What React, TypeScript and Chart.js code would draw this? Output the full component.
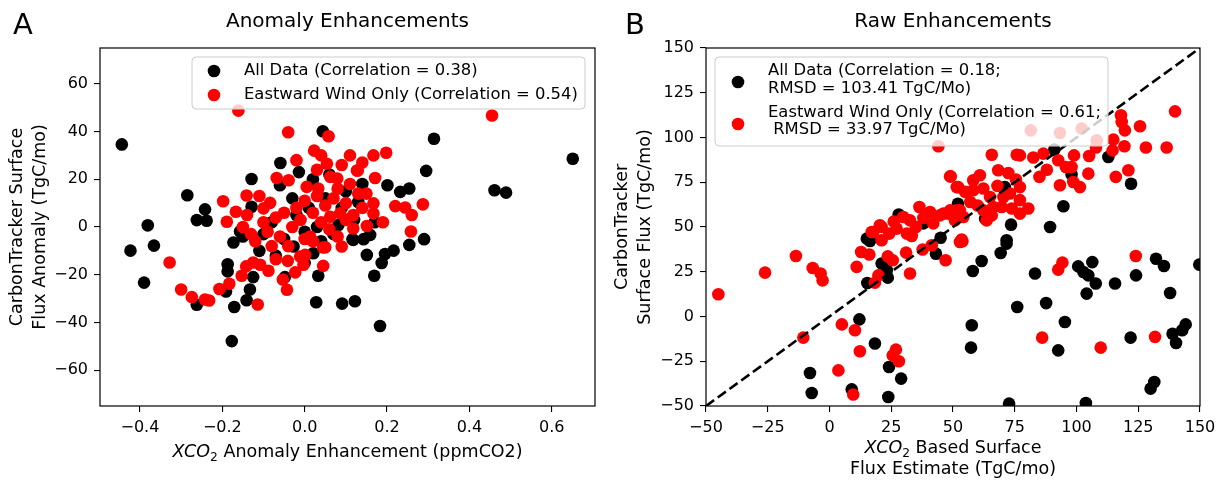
import React, { useEffect, useRef } from 'react';
import { Chart, registerables } from 'chart.js';

Chart.register(...registerables);

const FONT = "'DejaVu Sans', 'Liberation Sans', sans-serif";

// ---------- Panel A : anomaly enhancements ----------
const anomalyXTicks = [-0.4, -0.2, 0.0, 0.2, 0.4, 0.6];
const anomalyYTicks = [-60, -40, -20, 0, 20, 40, 60];

const anomalyAll: number[][] = [
  [-0.444, 34.6], [-0.423, -9.9], [-0.39, -23.3], [-0.381, 0.7], [-0.366, -7.8], [-0.285, 13.3],
  [-0.262, 2.9], [-0.238, 2.6], [-0.242, 7.4], [-0.262, -32.6], [-0.191, -27], [-0.187, -15.6],
  [-0.187, -18.6], [-0.171, -33.5], [-0.177, -47.8], [-0.141, -30.7], [-0.133, -26.2], [-0.125, -21],
  [-0.173, -6.5], [-0.157, -1.9], [-0.129, 20.1], [-0.129, 8.5], [-0.06, 17.5], [-0.059, 26.8],
  [-0.014, 23], [0.044, 40.1], [-0.048, -21], [-0.027, -8.2], [0.021, -11], [0.033, -20.4],
  [0.028, -31.5], [0.091, -32.1], [0.122, -31.1], [0.118, -5.4], [0.116, -5.1], [0.143, -5.1],
  [0.159, -3.3], [0.082, 0.8], [0.13, 10.5], [0.169, -20.4], [0.183, -41.5], [0.151, -11.7],
  [0.187, -15.1], [0.195, -11.3], [0.216, -9.9], [0.254, -7.5], [0.29, -5.1], [0.314, 37],
  [0.295, 23.5], [0.201, 17.5], [0.232, 14.7], [0.254, 16.1], [0.461, 15.4], [0.489, 14.4],
  [0.651, 28.6], [-0.1, -3], [-0.08, 2], [-0.05, -5], [-0.02, 5], [0.0, -2], [0.01, 8], [0.03, 0],
  [0.05, 12], [0.07, -3], [0.1, 15], [0.02, 20], [-0.03, 12], [0.06, 22], [0.12, 3], [-0.11, -10],
  [0.0, -15], [-0.07, -12], [0.04, -6], [0.09, 8], [0.14, 18], [-0.15, -4], [0.17, 2],
];

const anomalyEast: number[][] = [
  [-0.161, 48.75], [-0.04, 39.7], [0.058, 38], [0.023, 32], [0.054, 26.5], [-0.068, 20.5],
  [-0.039, 19.6], [0.005, 16.8], [0.033, 16.1], [0.062, 21], [0.079, 20.3], [0.127, 23.7],
  [-0.141, 13.2], [-0.198, 10.8], [-0.167, 6.4], [-0.084, 10.1], [-0.1, 7.8], [-0.189, 2.2],
  [-0.328, -14.9], [-0.3, -26.2], [-0.274, -29.4], [-0.242, -30.4], [-0.232, -30.8], [-0.207, -26],
  [-0.183, -23.8], [-0.114, -32.5], [-0.153, -20.4], [-0.142, -16.5], [-0.125, -14.9], [-0.108, -15.8],
  [-0.088, -18.3], [-0.07, -13.5], [-0.041, -14.2], [-0.053, -22], [-0.043, -26.3], [-0.023, -19],
  [-0.003, -15.8], [0.001, -11.7], [-0.011, -12.4], [0.045, -16.3], [0.09, -8.2], [0.013, -4],
  [0.045, -8.6], [0.05, -8.5], [0.151, 0.4], [0.118, -0.6], [0.258, -1.9], [0.22, 8.75],
  [0.244, 8.2], [0.26, 5], [0.287, 9.5], [0.167, 5.7], [0.167, 9.9], [0.118, 5], [0.086, 5.7],
  [0.062, 4.3], [0.455, 46.7], [0.167, 30], [0.198, 31.1], [0.129, 23.7], [0.171, 20.5],
  [-0.15, 0], [-0.13, -3], [-0.12, -6], [-0.1, 2], [-0.09, -2], [-0.07, 4], [-0.06, -4], [-0.05, 6],
  [-0.03, 0], [-0.02, 8], [-0.01, 3], [0.0, 11], [0.02, 6], [0.03, 13], [0.04, 2], [0.05, 9],
  [0.07, 12], [0.08, 16], [0.1, 10], [0.1, 3], [0.11, 18], [0.13, 14], [0.14, 8], [0.06, -1],
  [0.02, -6], [-0.04, -8], [-0.08, -8], [0.0, -5], [0.09, 26], [0.11, 30], [0.14, 27], [0.04, 30],
  [-0.02, 28], [0.15, 14], [0.08, -4], [-0.11, 13], [-0.14, 5], [0.19, 2], [0.03, 24],
];

// ---------- Panel B : raw enhancements ----------
const rawTicks = [-50, -25, 0, 25, 50, 75, 100, 125, 150];
const oneToOne: number[][] = [[-50, -50], [150, 150]];

const rawAll: number[][] = [
  [15.1, 43.5], [112.9, 89.1], [91, 93.2], [98, 79.3], [122.1, 74.2], [94.7, 61.6], [89.3, 50],
  [73.5, 51.3], [71.7, 42.6], [71, 72.3], [63, 54.7], [-7.9, -31.6], [-7.2, -42.7], [12.1, -1.6],
  [9, -40.7], [18.4, -15.1], [23.8, -45], [24.1, -28.2], [29, -34.7], [15.3, 18.7], [21.1, 29.6],
  [23.2, 25.8], [23.6, 21.7], [43.1, 35.1], [16.4, 42.2], [71.7, 40.7], [69.3, 35.5], [61.6, 31],
  [58, 25.4], [83.2, 24], [100.7, 28], [102.8, 24.9], [104.8, 23], [106.4, 30.4], [107.8, 18.4],
  [104.1, 12.8], [115.6, 18.4], [124.1, 23], [132.2, 32.3], [135.4, 28.2], [137.9, 13.1],
  [149.7, 29], [76, 5.3], [87.7, 7.5], [57.6, -4.9], [57.3, -17.4], [92.6, -18.9], [95.3, -3.1],
  [121.9, -11.8], [138.9, -9.6], [142.8, -7.7], [144.2, -4.4], [140.3, -14.8], [131.5, -36.6],
  [130, -40.3], [72.7, -48.7], [103.8, -48.3], [28, 57], [45, 44], [52, 63], [38, 52],
];

const rawEast: number[][] = [
  [44.1, 95.1], [49.1, 78.3], [51.5, 72.3], [36.4, 61.2], [29.9, 55.6], [32.6, 53.7], [40.7, 58.4],
  [44.7, 56.5], [48.1, 57.5], [51.5, 59.3], [20.4, 51], [17.1, 47.2], [27.2, 49.1], [31.3, 46.3],
  [81.5, 104], [93.3, 102.5], [102.1, 105], [108.2, 98.4], [118, 112.4], [118.3, 108.7],
  [119.6, 104], [139.9, 114.6], [125.7, 106.3], [114.9, 98.8], [114.6, 92.8], [119.4, 95.1],
  [128.1, 94.4], [136.5, 94.4], [99, 90], [105.1, 89.7], [107.9, 94.4], [86.6, 91], [92.6, 87.3],
  [95.7, 83.5], [98, 83.5], [101.4, 72.3], [93.3, 73.3], [98.7, 75.1], [104.8, 79.8], [115.9, 78],
  [121, 81.7], [65.7, 90.4], [75.8, 90.4], [77.1, 90], [82.5, 88.8], [68.3, 81.7], [72.4, 80.2],
  [77.1, 72.3], [75.5, 76.5], [60.9, 78.9], [58.2, 76.1], [48.8, 78.3], [52.1, 72.3], [54.9, 69.6],
  [58.2, 70.5], [62.3, 71.5], [65, 66.8], [70.4, 66.8], [73.1, 68.7], [77.1, 65], [80.5, 60.3],
  [77.1, 57.5], [73.8, 60.3], [66.3, 61.2], [62.3, 59.3], [65.7, 56.5], [69.7, 61.2], [46.1, 57.5],
  [48.8, 59.3], [52.8, 59.3], [50.8, 53.7], [54.2, 55.6], [63.6, 53.7], [53.5, 43], [-45, 12.4],
  [-26.1, 24.5], [-13.6, 33.8], [-6.8, 27.1], [-3.6, 24], [-2.8, 20.2], [-10.6, -11.8], [3.6, -30.1],
  [5, -4.4], [10.3, -7.7], [9.6, -43.6], [12.3, -19.4], [25.6, -21.7], [26.9, -18.5], [28.1, -25],
  [11, 27.7], [12.8, 36], [16.1, 34.6], [18.4, 18.9], [19.8, 23], [23.6, 33.6], [25.6, 31.4],
  [32.6, 24], [31, 35.7], [33.3, 45], [37.7, 37.4], [41.4, 39.8], [47, 31.4], [17.7, 47.2],
  [21.1, 50], [21.1, 42.6], [24.2, 46.3], [52.8, 41.6], [53.8, 42], [92.6, 26.2], [94.3, 30.1],
  [124, 33.8], [86.1, -11.8], [109.8, -17.4], [131.8, -11.4], [35, 50], [38, 55], [42, 52],
  [26, 53], [57, 64], [60, 62], [68, 73], [85, 78], [88, 82],
];

const anomalyLegend = ['All Data (Correlation = 0.38)', 'Eastward Wind Only (Correlation = 0.54)'];
const rawLegend = [
  ['All Data (Correlation = 0.18;', 'RMSD = 103.41 TgC/Mo)'],
  ['Eastward Wind Only (Correlation = 0.61;', ' RMSD = 33.97 TgC/Mo)'],
];

type Part = { t: string; italic?: boolean; sub?: boolean };

const TICK_SIZE = 16;
const LABEL_SIZE = 17.5;
const LEGEND_SIZE = 16.4;
const TITLE_SIZE = 20;

const fmtMinus = (s: string) => s.replace('-', '\u2212');

function roundRect(ctx: CanvasRenderingContext2D, x: number, y: number, w: number, h: number, r: number) {
  ctx.beginPath();
  ctx.moveTo(x + r, y);
  ctx.arcTo(x + w, y, x + w, y + h, r);
  ctx.arcTo(x + w, y + h, x, y + h, r);
  ctx.arcTo(x, y + h, x, y, r);
  ctx.arcTo(x, y, x + w, y, r);
  ctx.closePath();
}

function drawRich(ctx: CanvasRenderingContext2D, parts: Part[], cx: number, cy: number) {
  const fontOf = (p: Part) => `${p.italic ? 'italic ' : ''}${p.sub ? LABEL_SIZE * 0.7 : LABEL_SIZE}px ${FONT}`;
  let total = 0;
  const widths = parts.map((p) => {
    ctx.font = fontOf(p);
    const w = ctx.measureText(p.t).width;
    total += w;
    return w;
  });
  let x = cx - total / 2;
  ctx.textAlign = 'left';
  ctx.textBaseline = 'alphabetic';
  ctx.fillStyle = '#000';
  const base = cy + LABEL_SIZE * 0.36;
  parts.forEach((p, i) => {
    ctx.font = fontOf(p);
    ctx.fillText(p.t, x, base + (p.sub ? LABEL_SIZE * 0.22 : 0));
    x += widths[i];
  });
}

interface LegendItem { color: string; my: number; lines: [string, number][] }
interface PanelCfg {
  width: number;
  left: number;
  title: string;
  yTitle: string[];
  yTitlePad: number;
  xTitle: Part[][];
  xTitleY: number[];
  black: number[][];
  red: number[][];
  line?: number[][];
  xMin: number; xMax: number; yMin: number; yMax: number;
  xTicks: number[]; yTicks: number[];
  xFmt: (v: number) => string;
  yAxisWidth: number;
  padRight: number;
  letter: string; letterX: number;
  legendBox: { x: number; y: number; w: number; h: number };
  legendItems: LegendItem[];
  markerX: number; textX: number;
}

const panelA: PanelCfg = {
  width: 603,
  left: 0,
  title: 'Anomaly Enhancements',
  yTitle: ['CarbonTracker Surface', 'Flux Anomaly (TgC/mo)'],
  yTitlePad: 6.5,
  xTitle: [[{ t: 'XCO', italic: true }, { t: '2', sub: true }, { t: ' Anomaly Enhancement (ppmCO2)' }]],
  xTitleY: [451],
  black: anomalyAll,
  red: anomalyEast,
  xMin: -0.497, xMax: 0.705, yMin: -75, yMax: 75,
  xTicks: anomalyXTicks, yTicks: anomalyYTicks,
  xFmt: (v) => fmtMinus(v.toFixed(1)),
  yAxisWidth: 100,
  padRight: 8,
  letter: 'A', letterX: 13,
  legendBox: { x: 192, y: 57, w: 393, h: 52 },
  legendItems: [
    { color: '#000000', my: 71, lines: [[anomalyLegend[0], 71]] },
    { color: '#ff0000', my: 95, lines: [[anomalyLegend[1], 95]] },
  ],
  markerX: 214, textX: 244,
};

const OFF = 603;
const panelB: PanelCfg = {
  width: 623,
  left: OFF,
  title: 'Raw Enhancements',
  yTitle: ['CarbonTracker', 'Surface Flux (TgC/mo)'],
  yTitlePad: 8.5,
  xTitle: [
    [{ t: 'XCO', italic: true }, { t: '2', sub: true }, { t: ' Based Surface' }],
    [{ t: 'Flux Estimate (TgC/mo)' }],
  ],
  xTitleY: [447, 468],
  black: rawAll,
  red: rawEast,
  line: oneToOne,
  xMin: -50, xMax: 150, yMin: -50, yMax: 150,
  xTicks: rawTicks, yTicks: rawTicks,
  xFmt: (v) => fmtMinus(String(v)),
  yAxisWidth: 103,
  padRight: 26,
  letter: 'B', letterX: 625 - OFF,
  legendBox: { x: 715 - OFF, y: 57, w: 393, h: 89 },
  legendItems: [
    { color: '#000000', my: 82, lines: [[rawLegend[0][0], 71], [rawLegend[0][1], 89]] },
    { color: '#ff0000', my: 124, lines: [[rawLegend[1][0], 113], [rawLegend[1][1], 130]] },
  ],
  markerX: 738 - OFF, textX: 768 - OFF,
};

const toPts = (arr: number[][]) => arr.map(([x, y]) => ({ x, y }));

function buildChart(canvas: HTMLCanvasElement, p: PanelCfg) {
  const overlay = {
    id: 'overlay' + p.letter,
    afterDatasetsDraw(chart: any) {
      const ctx: CanvasRenderingContext2D = chart.ctx;
      const a = chart.chartArea;
      ctx.save();
      ctx.strokeStyle = '#000';
      ctx.lineWidth = 1.2;
      ctx.strokeRect(a.left, a.top, a.right - a.left, a.bottom - a.top);
      const b = p.legendBox;
      roundRect(ctx, b.x, b.y, b.w, b.h, 4);
      ctx.fillStyle = 'rgba(255,255,255,0.8)';
      ctx.fill();
      ctx.strokeStyle = '#cccccc';
      ctx.lineWidth = 1;
      ctx.stroke();
      ctx.font = `${LEGEND_SIZE}px ${FONT}`;
      ctx.textAlign = 'left';
      ctx.textBaseline = 'middle';
      p.legendItems.forEach((it) => {
        ctx.beginPath();
        ctx.arc(p.markerX, it.my, 6.3, 0, Math.PI * 2);
        ctx.fillStyle = it.color;
        ctx.fill();
        ctx.fillStyle = '#000';
        it.lines.forEach(([t, y]) => ctx.fillText(t, p.textX, y));
      });
      ctx.restore();
    },
    afterDraw(chart: any) {
      const ctx: CanvasRenderingContext2D = chart.ctx;
      const a = chart.chartArea;
      ctx.save();
      const cx = (a.left + a.right) / 2;
      p.xTitle.forEach((parts, i) => drawRich(ctx, parts, cx, p.xTitleY[i]));
      ctx.font = `29px ${FONT}`;
      ctx.textAlign = 'left';
      ctx.textBaseline = 'alphabetic';
      ctx.fillStyle = '#000';
      ctx.fillText(p.letter, p.letterX, 34);
      ctx.restore();
    },
  };

  const datasets: any[] = [];
  if (p.line) {
    datasets.push({
      type: 'line',
      data: toPts(p.line),
      borderColor: '#000',
      borderWidth: 2.6,
      borderDash: [10, 4.5],
      pointRadius: 0,
      fill: false,
      clip: 0,
    });
  }
  datasets.push({
    type: 'scatter',
    data: toPts(p.red),
    backgroundColor: '#ff0000',
    borderWidth: 0,
    pointRadius: 6.3,
    clip: 0,
  });
  datasets.push({
    type: 'scatter',
    data: toPts(p.black),
    backgroundColor: '#000000',
    borderWidth: 0,
    pointRadius: 6.3,
    clip: 0,
  });

  const tickFont = { family: FONT, size: TICK_SIZE };
  return new Chart(canvas, {
    type: 'scatter',
    data: { datasets },
    plugins: [overlay],
    options: {
      responsive: false,
      animation: false,
      events: [],
      layout: { padding: { left: 0, right: p.padRight, top: 0, bottom: 0 } },
      plugins: {
        legend: { display: false },
        tooltip: { enabled: false },
        title: {
          display: true,
          text: p.title,
          fullSize: false,
          color: '#000',
          font: { family: FONT, size: TITLE_SIZE, weight: 'normal', lineHeight: 1.2 },
          padding: { top: 10, bottom: 14 },
        },
      },
      scales: {
        x: {
          type: 'linear',
          position: 'bottom',
          min: p.xMin,
          max: p.xMax,
          afterBuildTicks: (s: any) => { s.ticks = p.xTicks.map((v) => ({ value: v })); },
          afterFit: (s: any) => { s.height = 76; },
          ticks: {
            color: '#000',
            font: tickFont,
            padding: 6,
            maxRotation: 0,
            autoSkip: false,
            callback: (v: any) => p.xFmt(Number(v)),
          },
          grid: { drawOnChartArea: false, drawTicks: true, tickLength: 6, color: '#000', lineWidth: 1.1 },
          border: { display: false },
        },
        y: {
          type: 'linear',
          position: 'left',
          min: p.yMin,
          max: p.yMax,
          afterBuildTicks: (s: any) => { s.ticks = p.yTicks.map((v) => ({ value: v })); },
          afterFit: (s: any) => { s.width = p.yAxisWidth; },
          ticks: {
            color: '#000',
            font: tickFont,
            padding: 6,
            autoSkip: false,
            callback: (v: any) => fmtMinus(String(v)),
          },
          grid: { drawOnChartArea: false, drawTicks: true, tickLength: 6, color: '#000', lineWidth: 1.1 },
          border: { display: false },
          title: {
            display: true,
            text: p.yTitle,
            color: '#000',
            font: { family: FONT, size: LABEL_SIZE, lineHeight: 1.3 },
            padding: { top: p.yTitlePad, bottom: 0 },
          },
        },
      },
    } as any,
  });
}

function Panel({ cfg }: { cfg: PanelCfg }) {
  const ref = useRef<HTMLCanvasElement | null>(null);
  useEffect(() => {
    if (!ref.current) return;
    const chart = buildChart(ref.current, cfg);
    return () => chart.destroy();
  }, [cfg]);
  return (
    <canvas
      ref={ref}
      width={cfg.width}
      height={482}
      style={{ position: 'absolute', left: cfg.left, top: 0, width: cfg.width, height: 482 }}
    />
  );
}

export default function App() {
  return (
    <div style={{ position: 'fixed', left: 0, top: 0, width: 1226, height: 482, background: '#fff' }}>
      <Panel cfg={panelA} />
      <Panel cfg={panelB} />
    </div>
  );
}
